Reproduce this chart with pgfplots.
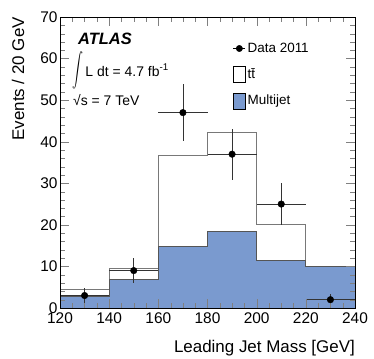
\documentclass[border=0pt]{standalone}
\usepackage{pgfplots}
\pgfplotsset{compat=1.18}
\usepackage{graphicx}
\usepackage{fontspec}
\setmainfont{Liberation Sans}
\definecolor{mjblue}{RGB}{122,154,207}
\definecolor{ttgray}{RGB}{120,120,120}
\definecolor{mjline}{RGB}{85,85,85}
\begin{document}
\begin{tikzpicture}
\begin{axis}[
  scale only axis, width=295bp, height=291bp,
  xmin=120, xmax=240, ymin=0, ymax=70,
  xtick={120,140,...,240}, ytick={0,10,...,70},
  minor x tick num=3, minor y tick num=4,
  tick align=inside, major tick length=9bp, minor tick length=5bp,
  axis on top, axis line style={line width=0.8bp},
  /pgf/number format/assume math mode=true,
  ticklabel style={font=\fontsize{15.5}{17}\selectfont},
  xticklabel style={yshift=-1bp},
  yticklabel style={xshift=1bp},
  legend style={at={(rel axis cs:0.586,0.918)}, anchor=north west,
    draw=none, fill=none, inner sep=0pt,
    font=\fontsize{13.5}{16}\selectfont, row sep=10bp,
    /tikz/every even column/.append style={column sep=1bp}},
  legend cell align=left,
]
\addlegendimage{legend image code/.code={\draw[black, line width=0.6bp] (0bp,0bp) -- (12bp,0bp); \fill[black] (6bp,0bp) circle (3.2bp);}}
\addlegendentry{Data 2011}
\addlegendimage{legend image code/.code={\draw[black, fill=white, line width=0.6bp] (0bp,-8bp) rectangle (12bp,8bp);}}
\addlegendentry{t\={t}}
\addlegendimage{legend image code/.code={\draw[black, fill=mjblue, line width=0.6bp] (0bp,-8bp) rectangle (12bp,8bp);}}
\addlegendentry{Multijet}

% ttbar + multijet (stack total)
\addplot[const plot, fill=white, draw=ttgray, line width=0.9bp, forget plot]
  coordinates {(120,4.5)(140,9.5)(160,36.8)(180,42.3)(200,20.0)(220,10.0)(240,10.0)} \closedcycle;
% multijet
\addplot[const plot, fill=mjblue, draw=mjline, line width=0.9bp, forget plot]
  coordinates {(120,2.7)(140,6.8)(160,14.7)(180,18.5)(200,11.5)(220,9.9)(240,9.9)} \closedcycle;
% data
\addplot[only marks, mark=*, mark size=3.3bp, black, forget plot,
  error bars/.cd, x dir=both, x explicit, y dir=both, y explicit,
  error bar style={line width=0.6bp, black!80}, error mark=none]
  coordinates {
    (130,3) +- (10,1.7)
    (150,9) +- (10,3.0)
    (170,47) +- (10,6.9)
    (190,37) +- (10,6.1)
    (210,25) +- (10,5.0)
    (230,2) +- (10,1.4)
  };

\node[anchor=base west, inner sep=0pt, font=\fontsize{16.5}{18}\selectfont\bfseries\itshape]
  at (rel axis cs:0,1) [xshift=18bp, yshift=-27bp] {ATLAS};
\node[anchor=base west, font=\fontsize{14}{16}\selectfont, inner sep=0pt]
  at (rel axis cs:0,1) [xshift=12bp, yshift=-59bp] {\scalebox{1.1}[1.7]{\(\displaystyle\int\)}\,L dt = 4.7 fb\textsuperscript{-1}};
\node[anchor=base west, font=\fontsize{14}{16}\selectfont, inner sep=0pt]
  at (rel axis cs:0,1) [xshift=13bp, yshift=-88bp] {√s = 7 TeV};
\end{axis}
\node[rotate=90, anchor=base east, font=\fontsize{17}{19}\selectfont, inner sep=0pt]
  at (-36bp,291bp) {Events / 20 GeV};
\node[anchor=base east, font=\fontsize{17}{19}\selectfont, inner sep=0pt]
  at (295bp,-44bp) {Leading Jet Mass [GeV]};
\path[use as bounding box] (-60bp,-51bp) rectangle (314bp,308bp);
\end{tikzpicture}
\end{document}
